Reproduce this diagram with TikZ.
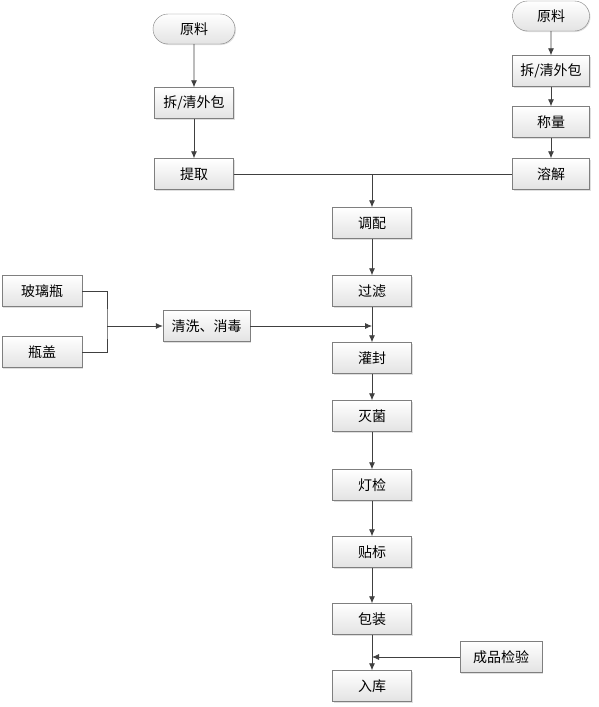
\documentclass[tikz,border=0pt]{standalone}
\usepackage{fontspec}
\newfontfamily\cjk{Noto Sans CJK SC}
\usetikzlibrary{shapes, arrows.meta, positioning, shadows}
\definecolor{BoxLine}{HTML}{7F7F7F}
\definecolor{ArrowLine}{HTML}{404040}
\definecolor{BoxBottom}{HTML}{E3E3E3}

\begin{document}
\begin{tikzpicture}[x=1pt, y=-1pt,
			every node/.style={font=\cjk\fontsize{14}{16}\selectfont, align=center, draw=BoxLine, top color=white, bottom color=BoxBottom, rectangle, minimum height=31pt, minimum width=79pt, inner sep=0pt, drop shadow={shadow xshift=1pt, shadow yshift=-1pt, opacity=0.25}},
			terminal/.style={rounded rectangle, minimum height=30pt},
			arr/.style={-{Latex[length=7pt,width=6pt]}, draw=ArrowLine, line width=0.8pt},
			link/.style={draw=ArrowLine, line width=0.8pt}
		]
			\useasboundingbox (0,0) rectangle (598,707);

			\node (rawA) [terminal, minimum width=82pt] at (194,29) {原料};
			\node (unpackA) at (194,103) {拆/清外包};
			\node (extract) at (194,174) {提取};

			\node (rawB) [terminal, minimum width=77pt] at (551,16) {原料};
			\node (unpackB) [minimum width=77pt] at (551,71) {拆/清外包};
			\node (weigh) [minimum width=77pt] at (551,122) {称量};
			\node (dissolve) [minimum width=77pt] at (551,174) {溶解};

			\node (mix) at (372,223) {调配};
			\node (filter) at (372,291) {过滤};
			\node (fill) at (372,358) {灌封};
			\node (steril) at (372,416) {灭菌};
			\node (inspect) at (372,485) {灯检};
			\node (label) at (372,552) {贴标};
			\node (pack) at (372,619) {包装};
			\node (store) at (372,686) {入库};

			\node (qc) [minimum width=82pt] at (501,657) {成品检验};

			\node (glass) [minimum width=80pt] at (42,291) {玻璃瓶};
			\node (cap) [minimum width=80pt] at (42,352) {瓶盖};
			\node (wash) [minimum width=87pt] at (206.5,326) {清洗、消毒};

			\coordinate (merge) at (107,326);
			\coordinate (join) at (372,174);

			\draw[arr] (rawA) -- (unpackA);
			\draw[arr] (unpackA) -- (extract);
			\draw[arr] (rawB) -- (unpackB);
			\draw[arr] (unpackB) -- (weigh);
			\draw[arr] (weigh) -- (dissolve);
			\draw[link] (extract) -- (dissolve);
			\draw[arr] (join) -- (mix);
			\draw[arr] (mix) -- (filter);
			\draw[arr] (filter) -- (fill);
			\draw[arr] (fill) -- (steril);
			\draw[arr] (steril) -- (inspect);
			\draw[arr] (inspect) -- (label);
			\draw[arr] (label) -- (pack);
			\draw[arr] (pack) -- (store);
			\draw[link] (glass.east) -| (merge) |- (cap.east);
			\draw[arr] (merge) -- (wash);
			\draw[arr] (wash.east) -- (wash.east -| fill);
			\draw[arr] (qc.west) -- (qc.west -| store);
		\end{tikzpicture}
\end{document}
